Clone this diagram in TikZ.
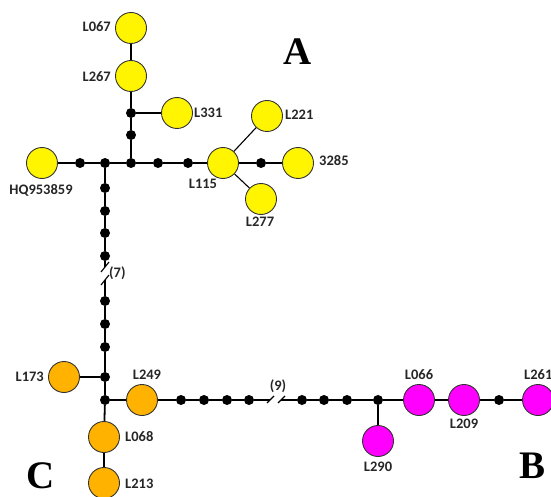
\documentclass[tikz,border=0pt]{standalone}
\usepackage{fontspec}
\setmainfont{Carlito}
\newfontfamily\bigserif{Liberation Serif}
\usetikzlibrary{backgrounds}
\definecolor{hapyellow}{RGB}{255,245,0}
\definecolor{haporange}{RGB}{255,178,0}
\definecolor{hapmagenta}{RGB}{255,0,255}
\begin{document}
\begin{tikzpicture}[x=1pt,y=-1pt,
  hap/.style={circle,draw=black!80,line width=0.9pt,minimum size=31pt,inner sep=0pt},
  yel/.style={hap,fill=hapyellow},
  ora/.style={hap,fill=haporange},
  mag/.style={hap,fill=hapmagenta},
  mv/.style={circle,fill=black,minimum size=10pt,inner sep=0pt},
  lab/.style={font=\bfseries\fontsize{14.5}{16}\selectfont,inner sep=0pt,text=black!85},
  big/.style={font=\bigserif\bfseries\fontsize{39}{40}\selectfont,inner sep=0pt},
  chain/.style={line width=1.8pt},
  branch/.style={line width=1.1pt}]
\useasboundingbox (0,0) rectangle (551,497);
% haplotypes A
\node[yel] (L067) at (131,28) {};
\node[yel] (L267) at (131,76) {};
\node[yel] (L331) at (177,113) {};
\node[yel] (HQ) at (42,163) {};
\node[yel] (L115) at (223,163) {};
\node[yel] (P3285) at (298,163) {};
\node[yel] (L221) at (267,116) {};
\node[yel] (L277) at (261,199) {};
% C
\node[ora] (L173) at (64,377) {};
\node[ora] (L249) at (142,400) {};
\node[ora] (L068) at (104,437) {};
\node[ora] (L213) at (104,483) {};
% B
\node[mag] (L290) at (378,441) {};
\node[mag] (L066) at (419,400) {};
\node[mag] (L209) at (464,400) {};
\node[mag] (L261) at (538,400) {};
% median vectors
\node[mv] (t1) at (131,113) {};
\node[mv] (t2) at (131,135) {};
\node[mv] (h1) at (80,163) {};
\node[mv] (h2) at (105,163) {};
\node[mv] (h3) at (131,163) {};
\node[mv] (h4) at (158,163) {};
\node[mv] (h5) at (188,163) {};
\node[mv] (h6) at (261,163) {};
\node[mv] (v1) at (105,188) {};
\node[mv] (v2) at (105,211) {};
\node[mv] (v3) at (105,233) {};
\node[mv] (v4) at (105,256) {};
\node[mv] (v5) at (105,301) {};
\node[mv] (v6) at (105,324) {};
\node[mv] (v7) at (105,347) {};
\node[mv] (v8) at (105,377) {};
\node[mv] (v9) at (105,400) {};
\node[mv] (b1) at (181,400) {};
\node[mv] (b2) at (204,400) {};
\node[mv] (b3) at (227,400) {};
\node[mv] (b4) at (249,400) {};
\node[mv] (b5) at (302,400) {};
\node[mv] (b6) at (324,400) {};
\node[mv] (b7) at (347,400) {};
\node[mv] (b8) at (378,400) {};
\node[mv] (b9) at (499,400) {};
% break coordinates
\coordinate (vbA) at (105,267);
\coordinate (vbB) at (105,280);
\coordinate (hbA) at (270,400);
\coordinate (hbB) at (281,400);
% labels
\node[lab,anchor=east] (tL067) at (111,27) {L067};
\node[lab,anchor=east] (tL267) at (111,77) {L267};
\node[lab,anchor=west] (tL331) at (194,113) {L331};
\node[lab,anchor=west] (tL221) at (285,115) {L221};
\node[lab,anchor=west] (t3285) at (319,161) {3285};
\node[lab] (tL115) at (203,184) {L115};
\node[lab] (tHQ) at (41,190) {HQ953859};
\node[lab] (tL277) at (260,222) {L277};
\node[lab,anchor=east] (tL173) at (44,377) {L173};
\node[lab] (tL249) at (147,375) {L249};
\node[lab,anchor=west] (tL068) at (125,437) {L068};
\node[lab,anchor=west] (tL213) at (125,484) {L213};
\node[lab] (tL066) at (419,375) {L066};
\node[lab] (tL209) at (464,424) {L209};
\node[lab,anchor=west] (tL261) at (524,375) {L261};
\node[lab] (tL290) at (378,467) {L290};
\node[lab,anchor=west] (t7) at (109,273) {(7)};
\node[lab] (t9) at (278,386) {(9)};
\node[big] (A) at (298,52) {A};
\node[big] (B) at (532,466) {B};
\node[big] (C) at (41,476) {C};
% connectors
\begin{scope}[on background layer]
\draw[branch] (L067) -- (L267);
\draw[chain] (L267) -- (t1) -- (t2) -- (h3);
\draw[branch] (t1) -- (L331);
\draw[chain] (HQ) -- (h1) -- (h2) -- (h3) -- (h4) -- (h5) -- (L115) -- (h6) -- (P3285);
\draw[branch] (L115) -- (L221);
\draw[branch] (L115) -- (L277);
\draw[chain] (h2) -- (v1) -- (v2) -- (v3) -- (v4) -- (vbA);
\draw[chain] (vbB) -- (v5) -- (v6) -- (v7) -- (v8) -- (v9) -- (L068);
\draw[branch] (L068) -- (L213);
\draw[branch] (L173) -- (v8);
\draw[chain] (v9) -- (L249) -- (b1) -- (b2) -- (b3) -- (b4) -- (hbA);
\draw[chain] (hbB) -- (b5) -- (b6) -- (b7) -- (b8) -- (L066) -- (L209) -- (b9) -- (L261);
\draw[branch] (b8) -- (L290);
% break slashes
\draw[branch] ([shift={(-4,5)}]vbA) -- ([shift={(4,-5)}]vbA);
\draw[branch] ([shift={(-4,5)}]vbB) -- ([shift={(4,-5)}]vbB);
\draw[branch] ([shift={(-3,3)}]hbA) -- ([shift={(4,-4)}]hbA);
\draw[branch] ([shift={(-3,3)}]hbB) -- ([shift={(4,-4)}]hbB);
\end{scope}
\end{tikzpicture}
\end{document}
